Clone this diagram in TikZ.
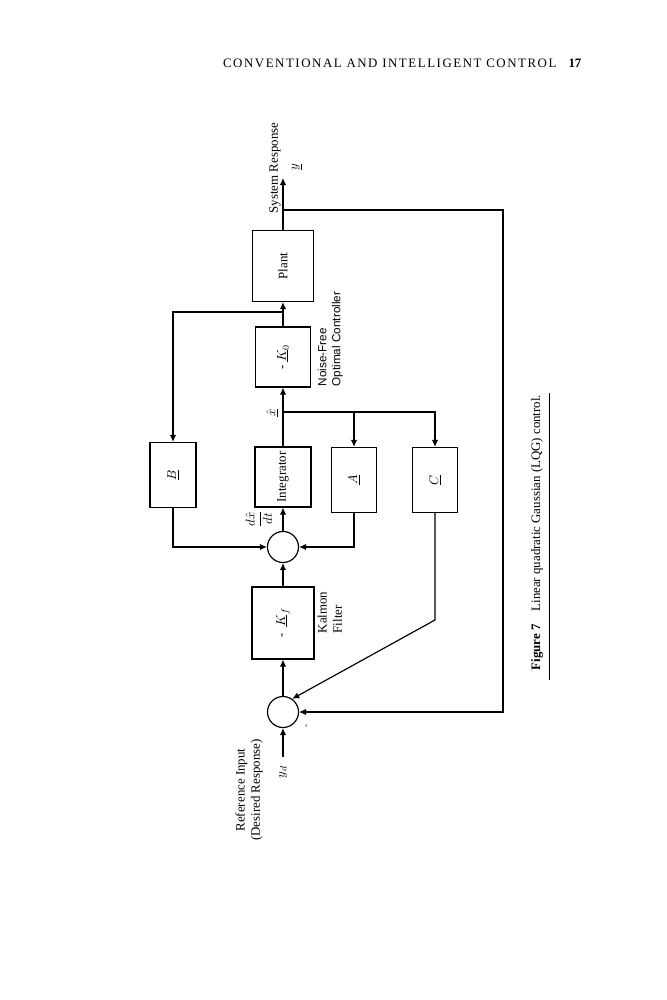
\documentclass[tikz,border=0pt]{standalone}
\usepackage{fontspec}
\setmainfont{Liberation Serif}
\newfontfamily\labelsans{Liberation Sans}
\usepackage{tikz}
\usetikzlibrary{arrows}
\usetikzlibrary{arrows.meta}
\usetikzlibrary{calc}

\begin{document}
\begin{tikzpicture}[x=0.03cm, y=-0.03cm, line width=1pt,
  >={Latex[length=6pt,width=5.5pt]},
  font=\fontsize{11}{13}\selectfont,
  blk/.style={draw, rectangle, inner sep=0pt},
  summer/.style={draw, circle, minimum size=0.93cm, inner sep=0pt},
  txt/.style={rotate=90, inner sep=1pt}]

\useasboundingbox (0,0) rectangle (667,1000);

% Running head of the page
\draw (582,67) node[anchor=base east, inner sep=0pt] (head)
  {{\addfontfeatures{LetterSpace=12}\fontsize{11}{13}\selectfont CONVENTIONAL AND INTELLIGENT CONTROL}\hspace{9pt}\textbf{17}};

% First, define nodes (page is turned, so text runs upwards)
\draw (283,266) node[blk, minimum width=1.83cm, minimum height=2.13cm] (plant) {\rotatebox{90}{Plant}};
\draw (283,357) node[blk, minimum width=1.65cm, minimum height=1.8cm] (k0) {\rotatebox{90}{- $\underline{K}_0$}};
\draw (283,477) node[blk, minimum width=1.68cm, minimum height=1.8cm] (integ) {\rotatebox{90}{Integrator}};
\draw (173,475) node[blk, minimum width=1.38cm, minimum height=1.95cm] (bmat) {\rotatebox{90}{$\underline{B}$}};
\draw (354,480) node[blk, minimum width=1.35cm, minimum height=1.95cm] (amat) {\rotatebox{90}{$\underline{A}$}};
\draw (435,480) node[blk, minimum width=1.35cm, minimum height=1.95cm] (cmat) {\rotatebox{90}{$\underline{C}$}};
\draw (283,623) node[blk, minimum width=1.86cm, minimum height=2.16cm] (kf) {\rotatebox{90}{-\enspace$\underline{K}_f$}};
\draw (283,547) node[summer] (sum2) {};
\draw (283,712) node[summer] (sum1) {};

% Free ends and bends
\coordinate (yout) at (283,178);
\coordinate (fb) at (283,210);
\coordinate (fbr) at (503,210);
\coordinate (fbd) at (503,712);
\coordinate (bsplit) at (283,312);
\coordinate (xsplit) at (283,412);
\coordinate (cbend) at (435,620);
\coordinate (yin) at (283,757);

% Forward path
\draw[->] (yin) -- (sum1);
\draw[->] (sum1) -- (kf);
\draw[->] (kf) -- (sum2);
\draw[->] (sum2) -- (integ);
\draw[->] (integ) -- (k0);
\draw[->] (k0) -- (plant);
\draw[->] (plant) -- (yout);

% Inner loops
\draw[->] (bsplit) -| (bmat.north);
\draw[->] (bmat.south) |- (sum2.west);
\draw[->] (xsplit) -| (amat.north);
\draw[->] (xsplit) -| (cmat.north);
\draw[->] (amat.south) |- (sum2.east);
\draw[->] (cmat.south) -- (cbend) -- (sum1.55);

% Output feedback
\draw[->] (fb) -- (fbr) -- (fbd) -- (sum1.east);

% Labels
\draw (275,168) node[txt] (lsys) {System Response};
\draw (297,167) node[txt] (ly) {$\underline{y}$};
\draw (316,388) node[txt, anchor=north west, align=left, font=\labelsans] (lopt) {Noise-Free\\Optimal Controller};
\draw (272,413) node[txt] (lxhat) {$\underline{\hat{x}}$};
\draw (259,519) node[txt] (ldx) {$\displaystyle\frac{d\hat{x}}{dt}$};
\draw (316,635) node[txt, anchor=north west, align=left] (lkal) {Kalmon\\Filter};
\draw (307,726) node[txt, font=\footnotesize] (lminus) {-};
\draw (283,772) node[txt] (lyd) {$y_d$};
\draw (249,790) node[txt, align=center] (lref) {Reference Input\\(Desired Response)};

% Caption
\draw (537,672) node[txt, anchor=west] (cap) {\textbf{Figure 7}\quad Linear quadratic Gaussian (LQG) control.};
\draw[line width=0.6pt] (549,680) -- (549,393);

\end{tikzpicture}
\end{document}
